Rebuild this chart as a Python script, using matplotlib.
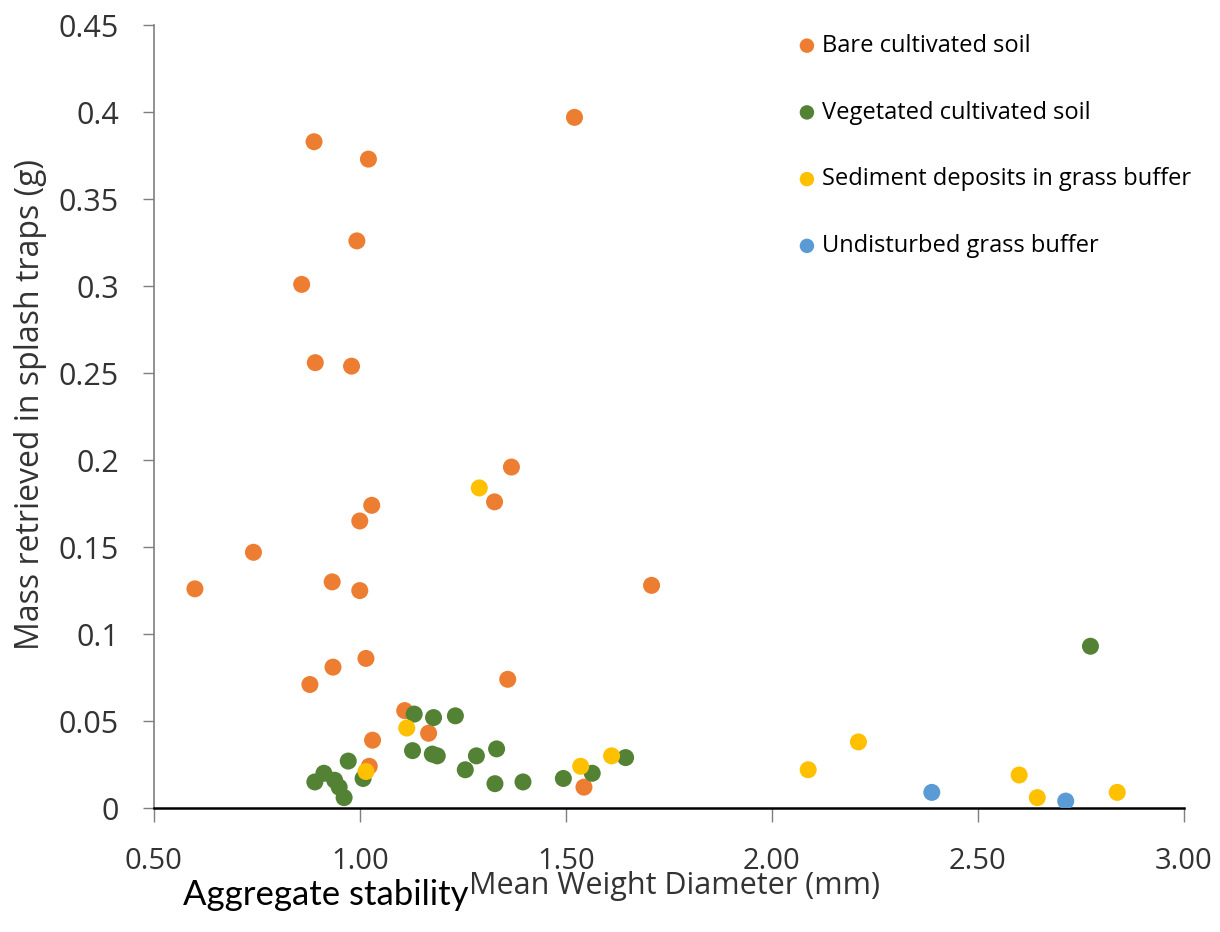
import matplotlib
matplotlib.use("Agg")
import matplotlib.pyplot as plt

# Mean Weight Diameter (mm) vs mass retrieved in splash traps (g)
bare_x = [0.889, 1.021, 0.993, 0.859, 0.892, 0.980, 1.521, 1.029, 1.000, 0.742,
          0.600, 0.933, 1.000, 1.015, 0.935, 0.879, 1.368, 1.327, 1.708, 1.359,
          1.109, 1.167, 1.031, 1.023, 1.544]
bare_y = [0.383, 0.373, 0.326, 0.301, 0.256, 0.254, 0.397, 0.174, 0.165, 0.147,
          0.126, 0.130, 0.125, 0.086, 0.081, 0.071, 0.196, 0.176, 0.128, 0.074,
          0.056, 0.043, 0.039, 0.024, 0.012]

veg_x = [1.132, 1.179, 1.232, 0.972, 1.008, 0.913, 0.891, 0.939, 0.950, 0.962,
         1.128, 1.176, 1.188, 1.283, 1.332, 1.256, 1.328, 1.396, 1.494, 1.564,
         1.645, 2.773]
veg_y = [0.054, 0.052, 0.053, 0.027, 0.017, 0.020, 0.015, 0.016, 0.012, 0.006,
         0.033, 0.031, 0.030, 0.030, 0.034, 0.022, 0.014, 0.015, 0.017, 0.020,
         0.029, 0.093]

sed_x = [1.290, 1.114, 1.015, 1.536, 1.611, 2.088, 2.210, 2.600, 2.644, 2.838]
sed_y = [0.184, 0.046, 0.021, 0.024, 0.030, 0.022, 0.038, 0.019, 0.006, 0.009]

grass_x = [2.388, 2.713]
grass_y = [0.009, 0.004]

labels = ["Bare cultivated soil", "Vegetated cultivated soil",
          "Sediment deposits in grass buffer", "Undisturbed grass buffer"]
colors = ["#ED7D31", "#548235", "#FFC000", "#5B9BD5"]

plt.rcParams['font.family'] = ['Open Sans', 'DejaVu Sans']

fig = plt.figure(figsize=(12.2, 9.32), dpi=100)
ax = fig.add_axes([0.126, 0.133, 0.8445, 0.840])

series = [(bare_x, bare_y), (veg_x, veg_y), (sed_x, sed_y), (grass_x, grass_y)]
for (xs, ys), c, lab in zip(series, colors, labels):
    ax.scatter(xs, ys, s=150, color=c, label=lab, edgecolors='none', zorder=3)

ax.set_xlim(0.5, 3.0)
ax.set_ylim(0, 0.45)
ax.set_xticks([0.5, 1.0, 1.5, 2.0, 2.5, 3.0])
ax.set_xticklabels(["0.50", "1.00", "1.50", "2.00", "2.50", "3.00"])
ax.set_yticks([0, 0.05, 0.1, 0.15, 0.2, 0.25, 0.3, 0.35, 0.4, 0.45])
ax.set_yticklabels(["0", "0.05", "0.1", "0.15", "0.2", "0.25", "0.3", "0.35", "0.4", "0.45"])

for s in ['top', 'right']:
    ax.spines[s].set_visible(False)
ax.spines['left'].set_color('#7f7f7f')
ax.spines['left'].set_linewidth(1.2)
ax.spines['bottom'].set_color('#000000')
ax.spines['bottom'].set_linewidth(1.8)

ax.tick_params(axis='y', length=8, width=1, color='#7f7f7f', pad=17,
               labelsize=22, labelcolor='#333333')
ax.tick_params(axis='x', length=10, width=1, color='#7f7f7f', pad=18,
               labelsize=21, labelcolor='#333333')

ax.set_ylabel("Mass retrieved in splash traps (g)", fontsize=23, color='#333333')
ax.yaxis.set_label_coords(-0.104, 0.515)
ax.set_xlabel("Mean Weight Diameter (mm)", fontsize=22, color='#333333')
ax.xaxis.set_label_coords(0.505, -0.08)

fig.text(0.15, 0.029, "Aggregate stability", fontsize=25, color='black',
         family=['Lato', 'DejaVu Sans'], va='baseline')

ax.legend(loc='upper left', bbox_to_anchor=(0.6065, 1.01), frameon=False,
          fontsize=17, labelspacing=1.81, handlelength=1.0, handletextpad=0.15,
          markerscale=0.85, borderaxespad=0.3)

fig.savefig("out.png", dpi=100)
